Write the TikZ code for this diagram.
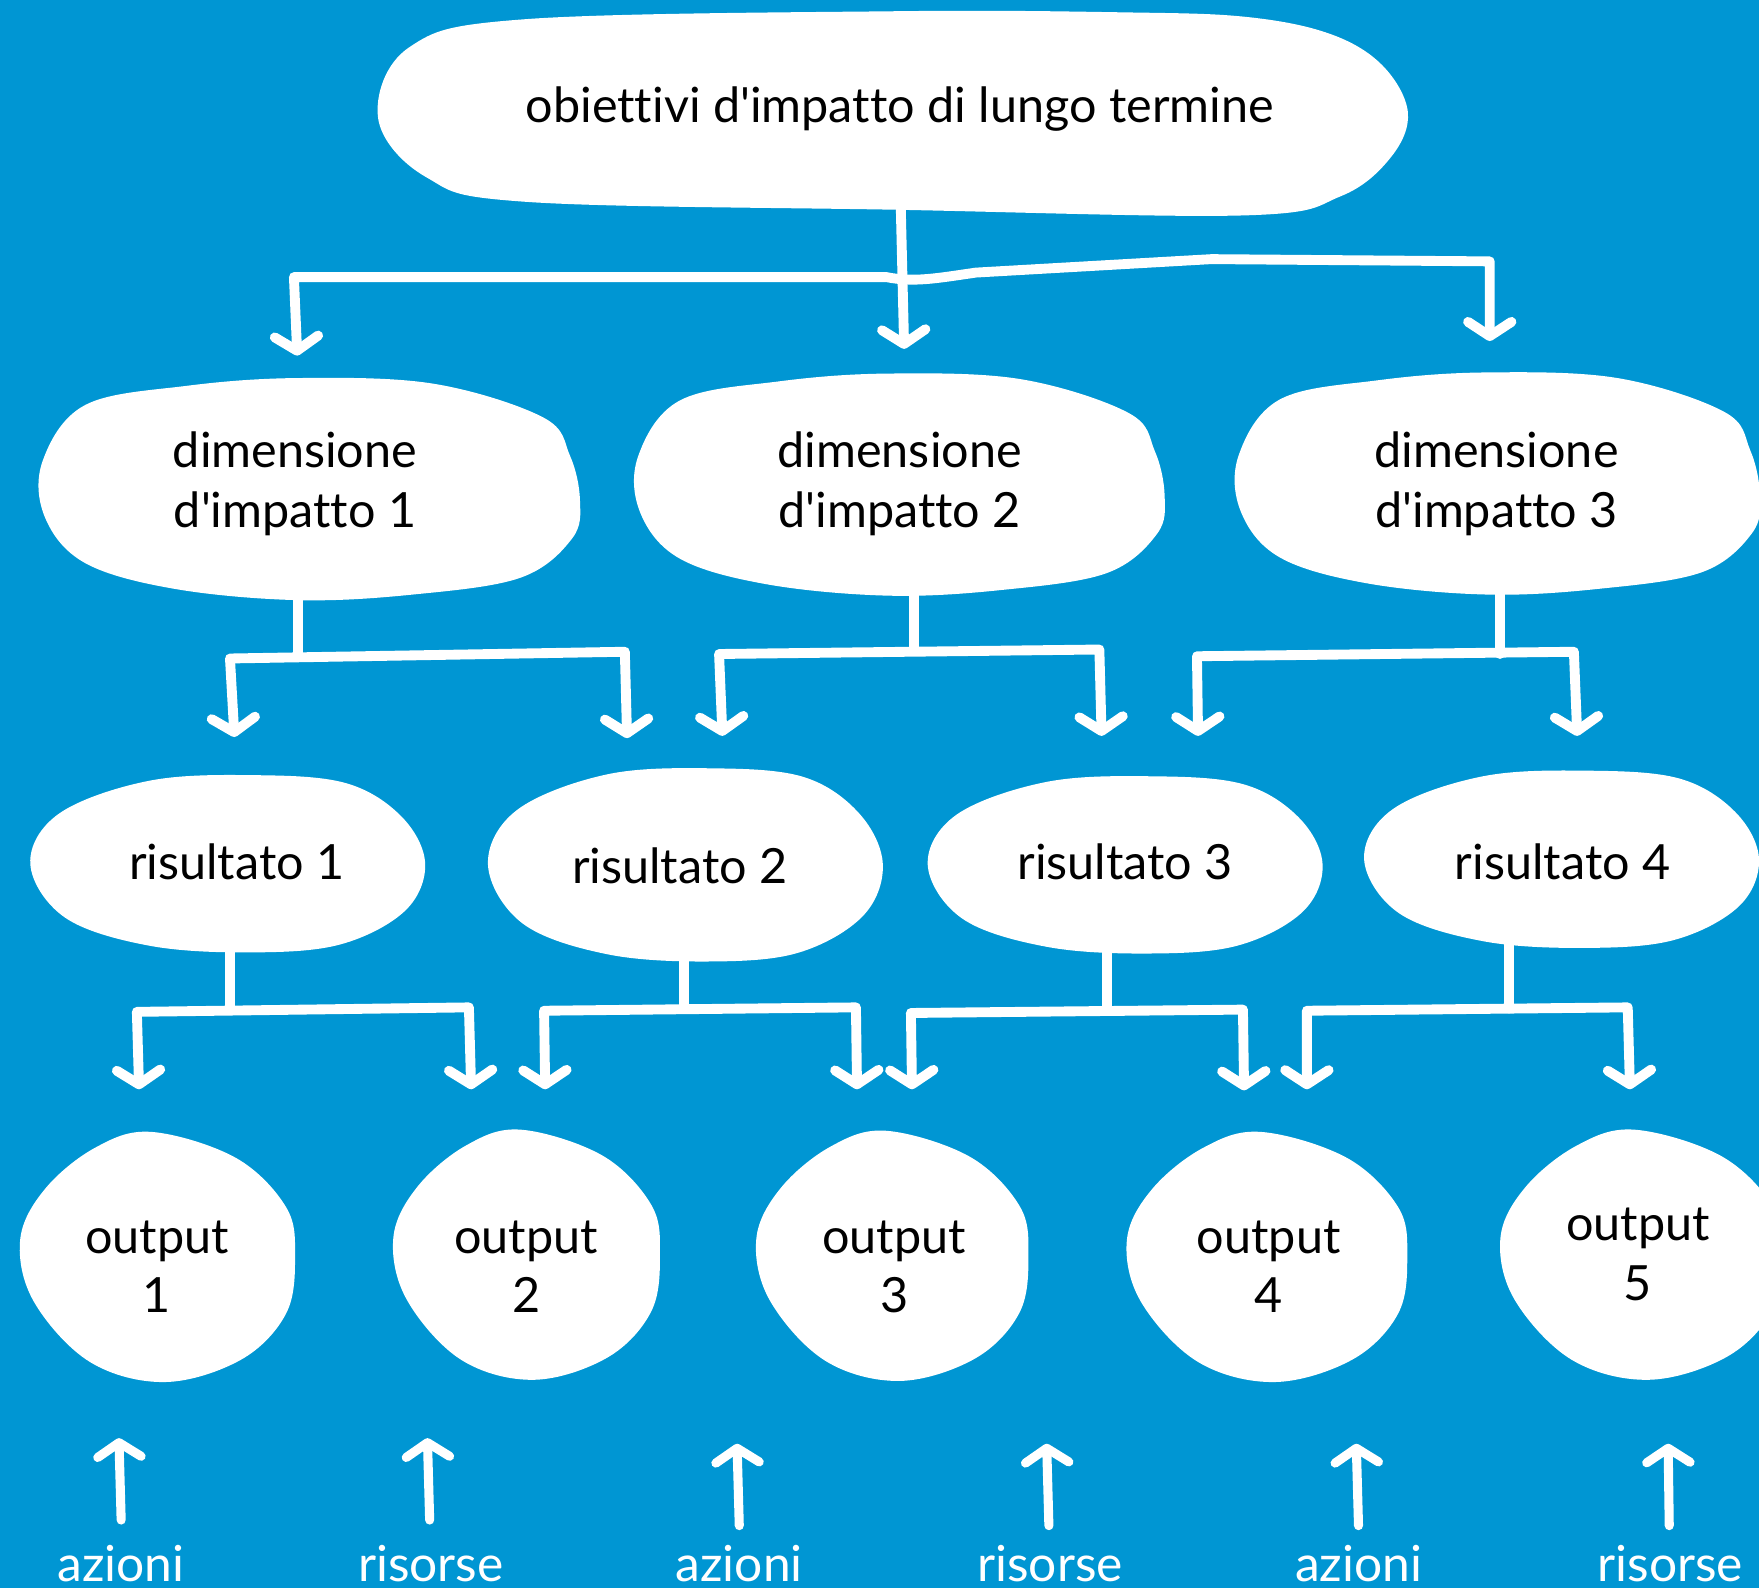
\documentclass[tikz,border=0pt]{standalone}
\usepackage{fontspec}
\newfontfamily\lato{Lato}[Ligatures={NoCommon}]
\usetikzlibrary{arrows.meta}
\definecolor{sea}{RGB}{0,150,211}

% hand-drawn outlines, local coordinates about each blob's centre
\newcommand\blobD{plot[smooth cycle, tension=0.6] coordinates {(-200,-75) (-110,-92) (-10,-99) (110,-94) (208,-64) (232,-30) (241,10) (234,44) (188,79) (92,94) (-10,99) (-120,89) (-200,66) (-236,25) (-238,-25)}}
\newcommand\blobR{plot[smooth cycle, tension=0.6] coordinates {(23,-79) (105,-72) (155,-42) (176,0) (158,42) (100,72) (20,79) (-70,73) (-145,48) (-176,0) (-150,-45) (-70,-74)}}
\newcommand\blobO{plot[smooth cycle, tension=0.6] coordinates {(-5,-111) (70,-88) (115,-44) (123,0) (115,51) (75,92) (7,112) (-60,94) (-110,40) (-122,-15) (-100,-60) (-55,-97)}}

\begin{document}
\begin{tikzpicture}[x=0.01cm, y=-0.01cm,
  blob/.style={fill=white, draw=none},
  txt/.style={font=\lato\fontsize{12.3pt}{15.1pt}\selectfont, text=black, inner sep=0pt, anchor=base},
  foot/.style={font=\lato\fontsize{12.6pt}{15.1pt}\selectfont, text=white, inner sep=0pt, anchor=base},
  link/.style={draw=white, line width=2.5pt, line cap=round, line join=round},
  >={Straight Barb[length=3.6pt, width=11pt, round]}]

% background
\fill[sea] (0,0) rectangle (1568,1416);
\useasboundingbox (0,0) rectangle (1568,1416);

% ---- blobs ----
\fill[blob] plot[smooth cycle, tension=0.6] coordinates {(365,42) (470,17) (800,10) (1000,11) (1110,15) (1185,30) (1232,58) (1255,100) (1240,140) (1195,175) (1110,192) (800,187) (470,180) (380,158) (337,105)};

\fill[blob, shift={(276,436)}] \blobD;
\fill[blob, shift={(802,432)}, xscale=0.98] \blobD;
\fill[blob, shift={(1335,431)}, xscale=0.97] \blobD;

\fill[blob, shift={(203,770)}] \blobR;
\fill[blob, shift={(611,771)}, yscale=1.09] \blobR;
\fill[blob, shift={(1003,771)}] \blobR;
\fill[blob, shift={(1392,766)}] \blobR;

\fill[blob, shift={(140,1120)}] \blobO;
\fill[blob, shift={(469,1118)}, xscale=0.97] \blobO;
\fill[blob, shift={(795,1119)}, xscale=0.99] \blobO;
\fill[blob, shift={(1129,1120)}, xscale=1.02] \blobO;
\fill[blob, shift={(1462,1118)}, xscale=1.02] \blobO;

% ---- texts ----
\node[txt] (top) at (802,109) {obiettivi d'impatto di lungo termine};

\node[txt] (d1) at (263,417) {\begin{tabular}[t]{@{}c@{}}dimensione\\d'impatto 1\end{tabular}};
\node[txt] (d2) at (802,417) {\begin{tabular}[t]{@{}c@{}}dimensione\\d'impatto 2\end{tabular}};
\node[txt] (d3) at (1334,417) {\begin{tabular}[t]{@{}c@{}}dimensione\\d'impatto 3\end{tabular}};

\node[txt] (r1) at (211,784) {risultato 1};
\node[txt] (r2) at (606,788) {risultato 2};
\node[txt] (r3) at (1003,784) {risultato 3};
\node[txt] (r4) at (1393,784) {risultato 4};

\node[txt] (o1) at (140,1117) {\begin{tabular}[t]{@{}c@{}}output\\1\end{tabular}};
\node[txt] (o2) at (469,1117) {\begin{tabular}[t]{@{}c@{}}output\\2\end{tabular}};
\node[txt] (o3) at (797,1117) {\begin{tabular}[t]{@{}c@{}}output\\3\end{tabular}};
\node[txt] (o4) at (1131,1117) {\begin{tabular}[t]{@{}c@{}}output\\4\end{tabular}};
\node[txt] (o5) at (1460,1106) {\begin{tabular}[t]{@{}c@{}}output\\5\end{tabular}};

\node[foot] (a1) at (108,1410) {azioni};
\node[foot] (a2) at (384,1410) {risorse};
\node[foot] (a3) at (659,1410) {azioni};
\node[foot] (a4) at (936,1410) {risorse};
\node[foot] (a5) at (1211,1410) {azioni};
\node[foot] (a6) at (1489,1410) {risorse};

% ---- connector points ----
\coordinate (top-s) at (803,186);
\coordinate (top-l) at (262,247);
\coordinate (top-r) at (1328,233);
\coordinate (d1-in) at (265,317);
\coordinate (d2-in) at (806,311);
\coordinate (d3-in) at (1328,304);

\coordinate (d1-s) at (266,533);  \coordinate (d1-j) at (266,585);
\coordinate (d1-l) at (205,587);  \coordinate (d1-r) at (557,581);
\coordinate (d1-a) at (209,657);  \coordinate (d1-b) at (559,658);
\coordinate (d2-s) at (815,528);  \coordinate (d2-j) at (815,580);
\coordinate (d2-l) at (641,583);  \coordinate (d2-r) at (980,579);
\coordinate (d2-a) at (644,656);  \coordinate (d2-b) at (982,656);
\coordinate (d3-s) at (1337,524); \coordinate (d3-j) at (1337,583);
\coordinate (d3-l) at (1067,585); \coordinate (d3-r) at (1403,581);
\coordinate (d3-a) at (1068,656); \coordinate (d3-b) at (1406,656);

\coordinate (r1-s) at (205,846);  \coordinate (r1-j) at (205,900);
\coordinate (r1-l) at (122,902);  \coordinate (r1-r) at (418,898);
\coordinate (r1-a) at (124,971);  \coordinate (r1-b) at (420,971);
\coordinate (r2-s) at (610,853);  \coordinate (r2-j) at (610,899);
\coordinate (r2-l) at (485,901);  \coordinate (r2-r) at (763,898);
\coordinate (r2-a) at (486,971);  \coordinate (r2-b) at (764,971);
\coordinate (r3-s) at (987,847);  \coordinate (r3-j) at (987,901);
\coordinate (r3-l) at (812,903);  \coordinate (r3-r) at (1108,900);
\coordinate (r3-a) at (813,971);  \coordinate (r3-b) at (1109,972);
\coordinate (r4-s) at (1345,842); \coordinate (r4-j) at (1345,899);
\coordinate (r4-l) at (1165,901); \coordinate (r4-r) at (1451,898);
\coordinate (r4-a) at (1165,971); \coordinate (r4-b) at (1453,971);

% ---- goal to dimensions ----
\draw[link, ->] (top-s) -- (d2-in);
\draw[link, <->] (d1-in) -- (top-l) -- (560,247) -- (790,247)
  .. controls (815,252) and (835,248) .. (870,243) -- (1080,231) -- (top-r) -- (d3-in);

% ---- dimensions to results, results to outputs ----
\foreach \n in {d1,d2,d3,r1,r2,r3,r4}{
  \draw[link] (\n-s) -- (\n-j);
  \draw[link, <->] (\n-a) -- (\n-l) -- (\n-r) -- (\n-b);
}

% ---- actions and resources feeding the outputs ----
\coordinate (u1) at (106,1282); \coordinate (v1) at (108,1355);
\coordinate (u2) at (381,1282); \coordinate (v2) at (383,1355);
\coordinate (u3) at (657,1287); \coordinate (v3) at (659,1360);
\coordinate (u4) at (933,1287); \coordinate (v4) at (935,1360);
\coordinate (u5) at (1209,1287); \coordinate (v5) at (1211,1360);
\coordinate (u6) at (1487,1287); \coordinate (v6) at (1488,1360);
\foreach \k in {1,...,6}{
  \draw[link, line width=2.3pt, ->] (v\k) -- (u\k);
}
\end{tikzpicture}
\end{document}
